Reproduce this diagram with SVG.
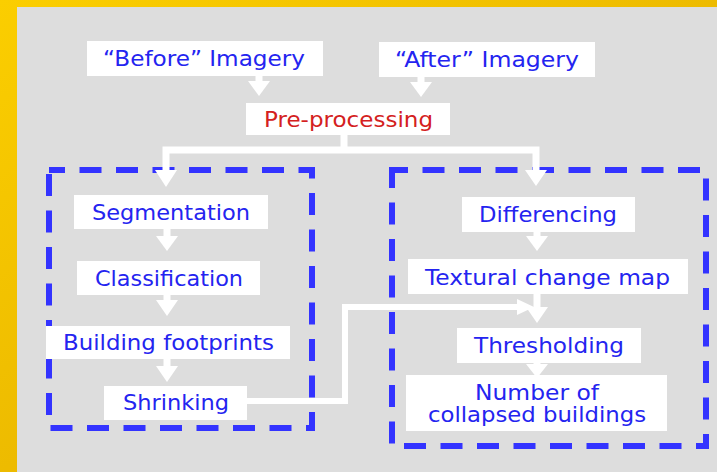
<svg xmlns="http://www.w3.org/2000/svg" width="717" height="472" viewBox="0 0 717 472">
<defs>
<linearGradient id="gold" x1="0" y1="0" x2="1" y2="1">
<stop offset="0" stop-color="#FBCE00"/>
<stop offset="1" stop-color="#DFA800"/>
</linearGradient>
</defs>
<style>
.box{fill:#FFFFFF}
.t{font-family:"DejaVu Sans","Verdana",sans-serif;font-size:21px;fill:#2424F0;text-anchor:middle}
.red{fill:#D42020}
.grp{fill:none;stroke:#3333FF;stroke-width:6;stroke-dasharray:22 14.5;stroke-dashoffset:6}
.ln{fill:none;stroke:#FFFFFF;stroke-width:7}
.ln2{fill:none;stroke:#FFFFFF;stroke-width:6}
.ah{fill:#FFFFFF}
</style>
<rect x="0" y="0" width="717" height="472" fill="url(#gold)"/>
<rect x="17" y="7" width="700" height="465" fill="#DDDDDD"/>

<g id="groups">
<rect id="group-left" class="grp" x="49" y="170" width="263" height="258"/>
<rect id="group-right" class="grp" x="392" y="170" width="314" height="276"/>
</g>

<g id="connectors">
<path class="ln" d="M259,76 V82"/><polygon class="ah" points="248,81 270,81 259,96"/>
<path class="ln" d="M421,77 V83"/><polygon class="ah" points="410,82 432,82 421,97"/>
<path class="ln" d="M344,134 V150 M166,171 V150 H536 V171"/>
<polygon class="ah" points="155,170 177,170 166,187"/>
<polygon class="ah" points="525,170 547,170 536,186"/>
<path class="ln" d="M167,229 V238"/><polygon class="ah" points="156,236 178,236 167,251"/>
<path class="ln" d="M167,295 V302"/><polygon class="ah" points="156,300 178,300 167,316"/>
<path class="ln" d="M167,359 V368"/><polygon class="ah" points="156,366 178,366 167,382"/>
<path class="ln" d="M537,232 V238"/><polygon class="ah" points="526,236 548,236 537,251"/>
<path class="ln" d="M537,294 V309"/><polygon class="ah" points="526,307 548,307 537,323"/>
<path class="ln" d="M537,363 V366"/><polygon class="ah" points="526,364 548,364 537,378"/>
<path class="ln2" d="M246,401 H345 V307 H520"/><polygon class="ah" points="517,299 534,307 517,315"/>
</g>

<g id="n-before"><rect class="box" x="87" y="41" width="236" height="35"/><text class="t" x="204" y="65.5" textLength="202" lengthAdjust="spacingAndGlyphs">“Before” Imagery</text></g>
<g id="n-after"><rect class="box" x="379" y="42" width="216" height="35"/><text class="t" x="487" y="67" textLength="184" lengthAdjust="spacingAndGlyphs">“After” Imagery</text></g>
<g id="n-pre"><rect class="box" x="246" y="103" width="204" height="32"/><text class="t red" x="348.5" y="127" textLength="169" lengthAdjust="spacingAndGlyphs">Pre-processing</text></g>
<g id="n-seg"><rect class="box" x="74" y="195" width="194" height="34"/><text class="t" x="171" y="220" textLength="158" lengthAdjust="spacingAndGlyphs">Segmentation</text></g>
<g id="n-class"><rect class="box" x="77" y="261" width="183" height="34"/><text class="t" x="169" y="286" textLength="148" lengthAdjust="spacingAndGlyphs">Classification</text></g>
<g id="n-foot"><rect class="box" x="46" y="326" width="244" height="33"/><text class="t" x="168.5" y="350" textLength="211" lengthAdjust="spacingAndGlyphs">Building footprints</text></g>
<g id="n-shrink"><rect class="box" x="104" y="386" width="143" height="34"/><text class="t" x="176" y="410" textLength="106" lengthAdjust="spacingAndGlyphs">Shrinking</text></g>
<g id="n-diff"><rect class="box" x="462" y="197" width="173" height="35"/><text class="t" x="548" y="222" textLength="138" lengthAdjust="spacingAndGlyphs">Differencing</text></g>
<g id="n-tex"><rect class="box" x="408" y="259" width="280" height="35"/><text class="t" x="547.5" y="285" textLength="245" lengthAdjust="spacingAndGlyphs">Textural change map</text></g>
<g id="n-thr"><rect class="box" x="457" y="328" width="184" height="35"/><text class="t" x="549" y="353" textLength="150" lengthAdjust="spacingAndGlyphs">Thresholding</text></g>
<g id="n-num"><rect class="box" x="406" y="375" width="261" height="56"/><text class="t" x="537" y="400" textLength="124" lengthAdjust="spacingAndGlyphs">Number of</text><text class="t" x="537" y="422" textLength="218" lengthAdjust="spacingAndGlyphs">collapsed buildings</text></g>
</svg>
